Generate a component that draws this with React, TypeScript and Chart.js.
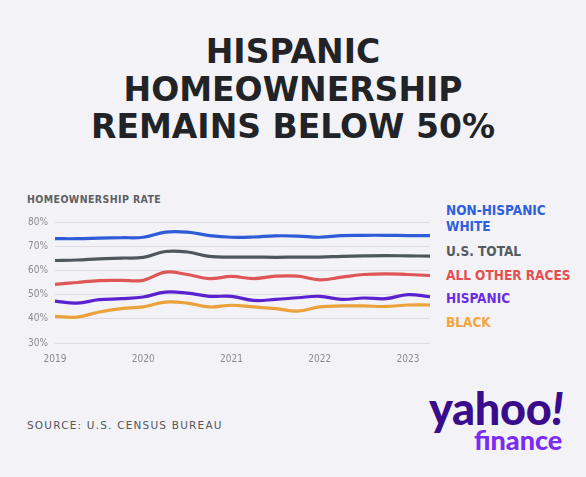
import React, { useEffect, useRef } from "react";
import { Chart, registerables } from "chart.js";

Chart.register(...registerables);

const quarters = [
  "2019 Q1", "2019 Q2", "2019 Q3", "2019 Q4",
  "2020 Q1", "2020 Q2", "2020 Q3", "2020 Q4",
  "2021 Q1", "2021 Q2", "2021 Q3", "2021 Q4",
  "2022 Q1", "2022 Q2", "2022 Q3", "2022 Q4",
  "2023 Q1", "2023 Q2",
];
const yearTicks = ["2019", "2020", "2021", "2022", "2023"];
const yTicks = [30, 40, 50, 60, 70, 80];

const nonHispanicWhite = [73.1, 73.1, 73.3, 73.5, 73.7, 75.8, 75.8, 74.4, 73.7, 73.8, 74.3, 74.2, 73.7, 74.4, 74.5, 74.5, 74.4, 74.4];
const usTotal = [64.1, 64.3, 64.8, 65.1, 65.4, 67.8, 67.6, 65.8, 65.5, 65.5, 65.4, 65.5, 65.5, 65.8, 66.0, 66.1, 66.0, 65.9];
const allOtherRaces = [54.2, 55.0, 55.8, 55.9, 55.9, 59.3, 58.3, 56.6, 57.5, 56.6, 57.6, 57.6, 56.1, 57.2, 58.3, 58.6, 58.3, 57.9];
const hispanic = [47.3, 46.5, 47.9, 48.3, 49.0, 51.0, 50.6, 49.3, 49.3, 47.6, 48.0, 48.7, 49.3, 48.0, 48.6, 48.3, 50.0, 49.1];
const black = [41.0, 40.7, 42.8, 44.2, 44.9, 46.9, 46.5, 44.9, 45.6, 44.9, 44.2, 43.2, 44.9, 45.3, 45.3, 45.1, 45.7, 45.7];

const seriesNames = ["NON-HISPANIC WHITE", "U.S. TOTAL", "ALL OTHER RACES", "HISPANIC", "BLACK"];
const seriesValues = [nonHispanicWhite, usTotal, allOtherRaces, hispanic, black];
const lineColors = ["#2f5bd8", "#50575c", "#de5656", "#5a22cf", "#eba23c"];
const labelColors = ["#2f5fdc", "#555b60", "#e5504f", "#6a2de2", "#f4a53e"];

const BG = "#f3f3f7";

export default function App() {
  const canvasRef = useRef<HTMLCanvasElement | null>(null);

  useEffect(() => {
    if (!canvasRef.current) return;
    const chart = new Chart(canvasRef.current, {
      type: "line",
      data: {
        labels: quarters,
        datasets: seriesValues.map((vals, i) => ({
          label: seriesNames[i],
          data: vals,
          borderColor: lineColors[i],
          backgroundColor: lineColors[i],
          borderWidth: 3.2,
          pointRadius: 0,
          tension: 0.4,
          fill: false,
        })),
      },
      options: {
        responsive: false,
        animation: false,
        layout: { padding: { top: 17, right: 8, left: 0, bottom: 0 } },
        plugins: { legend: { display: false }, tooltip: { enabled: false } },
        scales: {
          x: {
            offset: false,
            grid: { display: false, drawTicks: false },
            border: { display: false },
            ticks: {
              autoSkip: false,
              maxRotation: 0,
              padding: 10,
              color: "#8a8a90",
              font: { family: "'DejaVu Sans Condensed', 'DejaVu Sans', sans-serif", size: 10 },
              callback: (_v: any, idx: number) => (idx % 4 === 0 ? yearTicks[idx / 4] ?? "" : ""),
            },
            afterFit: (s: any) => {
              s.height = 32;
            },
          },
          y: {
            min: 30,
            max: 80,
            grid: { color: "#dcdce2", lineWidth: 1, drawTicks: false },
            border: { display: false },
            afterBuildTicks: (s: any) => {
              s.ticks = yTicks.map((v) => ({ value: v }));
            },
            ticks: {
              padding: 7,
              color: "#8a8a90",
              font: { family: "'DejaVu Sans Condensed', 'DejaVu Sans', sans-serif", size: 10 },
              callback: (v: any) => `${v}%`,
            },
            afterFit: (s: any) => {
              s.width = 35;
            },
          },
        },
      },
    });
    return () => chart.destroy();
  }, []);

  const legendTops = [210, 251, 275, 298, 322];

  return (
    <div
      style={{
        position: "fixed",
        left: 0,
        top: 0,
        width: 586,
        height: 477,
        background: BG,
        overflow: "hidden",
      }}
    >
      <div
        style={{
          position: "absolute",
          left: 0,
          top: 33,
          width: 586,
          textAlign: "center",
          fontFamily: "'DejaVu Sans', sans-serif",
          fontWeight: 700,
          fontSize: 33,
          lineHeight: "37.5px",
          color: "#222326",
        }}
      >
        HISPANIC
        <br />
        HOMEOWNERSHIP
        <br />
        REMAINS BELOW 50%
      </div>

      <div
        style={{
          position: "absolute",
          left: 27,
          top: 193,
          fontFamily: "'DejaVu Sans Condensed', 'DejaVu Sans', sans-serif",
          fontWeight: 700,
          fontSize: 10.5,
          lineHeight: "12px",
          color: "#5f6064",
          letterSpacing: 0.4,
          whiteSpace: "nowrap",
        }}
      >
        HOMEOWNERSHIP RATE
      </div>

      <canvas
        ref={canvasRef}
        width={420}
        height={170}
        style={{ position: "absolute", left: 20, top: 205, width: 420, height: 170 }}
      />

      {seriesNames.map((name, i) => (
        <div
          key={name}
          style={{
            position: "absolute",
            left: 446,
            top: legendTops[i] - 8,
            width: 135,
            fontFamily: "'DejaVu Sans Condensed', 'DejaVu Sans', sans-serif",
            fontWeight: 700,
            fontSize: 13.5,
            lineHeight: "16px",
            color: labelColors[i],
          }}
        >
          {i === 0 ? (
            <>
              NON-HISPANIC
              <br />
              WHITE
            </>
          ) : (
            name
          )}
        </div>
      ))}

      <div
        style={{
          position: "absolute",
          left: 27,
          top: 418,
          fontFamily: "'DejaVu Sans', sans-serif",
          fontSize: 10.5,
          lineHeight: "14px",
          color: "#55565a",
          letterSpacing: 1.2,
          whiteSpace: "nowrap",
        }}
      >
        SOURCE: U.S. CENSUS BUREAU
      </div>

      <div
        style={{
          position: "absolute",
          left: 429,
          top: 384,
          fontFamily: "Lato, 'DejaVu Sans', sans-serif",
          fontWeight: 900,
          fontSize: 45,
          lineHeight: "48px",
          color: "#3a0c8c",
          letterSpacing: -0.3,
          whiteSpace: "nowrap",
        }}
      >
        yahoo<span style={{ fontStyle: "italic" }}>!</span>
      </div>
      <div
        style={{
          position: "absolute",
          left: 474,
          top: 425,
          fontFamily: "Lato, 'DejaVu Sans', sans-serif",
          fontWeight: 900,
          fontSize: 27,
          lineHeight: "30px",
          color: "#7b2cf2",
          whiteSpace: "nowrap",
        }}
      >
        finance
      </div>
    </div>
  );
}
